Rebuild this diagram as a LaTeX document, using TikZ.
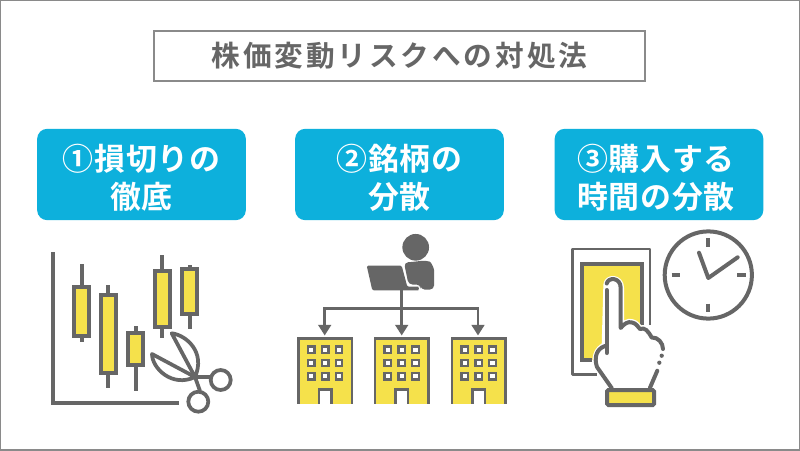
\documentclass[tikz,border=0pt]{standalone}
\usepackage{fontspec}
\usetikzlibrary{arrows.meta}
\newfontfamily\jpb[BoldFont=Noto Sans CJK JP Bold]{Noto Sans CJK JP}
\newcommand{\spt}[2]{\begingroup\def\myk{\kern#1\relax}\sptloop#2\relax\endgroup}
\def\sptloop#1#2{#1\ifx\relax#2\else\myk\expandafter\sptloop\expandafter#2\fi}
\newcommand{\topgap}{\rule{0pt}{25pt}}
\definecolor{ink}{HTML}{666666}
\definecolor{frameg}{HTML}{8A8A8A}
\definecolor{sky}{HTML}{0DB0DC}
\definecolor{sun}{HTML}{F5E14B}
\tikzset{
 titlebox/.style={draw=frameg,line width=1.1pt,fill=white,minimum width=368pt,minimum height=37.5pt,inner sep=0pt,text=ink,font=\jpb\bfseries\fontsize{21.5}{24}\selectfont},
 bluebox/.style={fill=sky,rounded corners=7.5pt,minimum width=156.5pt,minimum height=68.5pt,inner sep=0pt,text=white,align=center,font=\jpb\bfseries\fontsize{23.2}{28.5}\selectfont},
 ln/.style={draw=ink,line width=3pt},
 thin/.style={draw=ink,line width=2.2pt},
 candle/.style={draw=ink,line width=3pt,fill=sun},
 flow/.style={draw=ink,line width=2.2pt},
 flowarr/.style={flow,-{Triangle[length=8pt,width=9.5pt]}},
 win/.style={draw=ink,line width=1.7pt,fill=white},
}
\begin{document}
\begin{tikzpicture}[x=0.75pt,y=-0.75pt]
\useasboundingbox (0,0) rectangle (800,450);
\fill[white] (0,0) rectangle (800,450);
\draw[frameg,line width=1.5pt] (0,0) rectangle (800,450);
\node[titlebox] (title) at (399.5,56) {\spt{2.15pt}{株価変動リスクへの対処法}};
\node[bluebox] (b1) at (141.5,174.5) {\topgap\spt{0.5pt}{①損切りの}\\\spt{0.5pt}{徹底}};
\node[bluebox] (b2) at (399.5,174.5) {\topgap\spt{0.5pt}{②銘柄の}\\\spt{0.5pt}{分散}};
\node[bluebox] (b3) at (659,174.5) {\topgap\spt{0.5pt}{③購入する}\kern4.5pt\\\spt{0.5pt}{時間の分散}\kern4.5pt};
% chart
\draw[ln,line join=miter] (53,252) -- (53,403) -- (179,403);
\foreach \x/\wa/\wb/\ya/\yb in {81.7/264/342/287/336,108.3/285/388/295/372.7,135.7/326/391/333/365,162.3/255/338/271/326.7,189.7/265/329/269/314.3}{
 \draw[ln] (\x,\wa) -- (\x,\wb);
 \draw[candle] (\x-7.4,\ya) rectangle (\x+7.4,\yb);
}
% scissors
\draw[thin,line width=2.8pt,line join=round,fill=white] (171.7,333.3) .. controls (186,335) and (206,352) .. (195,377) -- cycle;
\draw[thin,line width=2.8pt,line join=round,fill=white] (152,354) .. controls (152,368) and (172,388) .. (195,377) -- cycle;
\draw[thin,line width=2.8pt] (195,377) -- (200,391);
\draw[thin,line width=2.8pt] (195,377) -- (210,377);
\draw[thin,line width=2.8pt,fill=white] (220.7,380) circle (7.5pt);
\draw[thin,line width=2.8pt,fill=white] (198.3,401.7) circle (7.5pt);
% person
\fill[ink] (415.7,247.3) circle (10pt);
\fill[ink,rounded corners=3pt] (404,262.5) .. controls (412,262) and (420,261) .. (426,260.5) .. controls (431,262) and (434,268) .. (434,274) -- (434,289.5) -- (420.5,289.5) -- (420.5,284.5) -- (408.5,284.5) -- cycle;
\fill[ink,rounded corners=1pt] (366.7,265.7) -- (401.7,265.7) -- (407.3,286.7) -- (417,286.7) .. controls (419,286.7) and (419,290.3) .. (417,290.3) -- (372.3,290.3) -- cycle;
% flow
\coordinate (hub) at (401.7,290);
\coordinate (mid) at (401.7,308.3);
\coordinate (t1) at (324.7,335.5);
\coordinate (t2) at (401.7,335.5);
\coordinate (t3) at (478,335.5);
\draw[flowarr] (hub) -- (t2);
\draw[flowarr] (mid) -| (t1);
\draw[flowarr] (mid) -| (t3);
% buildings
\foreach \bx in {298.5,375,452}{
 \fill[sun] (\bx,338.5) rectangle (\bx+53.5,403.5);
 \draw[thin,line join=miter] (\bx,403.5) -- (\bx,338.5) -- (\bx+53.5,338.5) -- (\bx+53.5,403.5);
 \foreach \wy in {349.7,363,376.3}{
  \foreach \wx in {12.7,26.7,40.5}{
   \draw[win] (\bx+\wx-3.2,\wy-3.2) rectangle (\bx+\wx+3.2,\wy+3.2);
  }
 }
 \fill[white] (\bx+20.5,389.5) rectangle (\bx+33,403.5);
 \draw[thin,line join=miter] (\bx+20.5,403.5) -- (\bx+20.5,389.5) -- (\bx+33,389.5) -- (\bx+33,403.5);
}
% tablet
\draw[thin,line join=round] (650,325) -- (650,249) -- (572.3,249) -- (572.3,374.3) -- (597,374.3);
\fill[sun] (581.7,264) rectangle (641.7,360);
\draw[ln,line join=miter] (641.7,325) -- (641.7,264) -- (581.7,264) -- (581.7,360) -- (592,360);
% clock
\draw[ln,fill=white] (708.3,275) circle (32.7pt);
\draw[ln] (708.3,238.3) -- (708.3,246.7);
\draw[ln] (708.3,303.5) -- (708.3,312);
\draw[ln] (671.5,275) -- (680,275);
\draw[ln] (737,275) -- (745.5,275);
\draw[ln,line cap=round,line join=round] (699,252.7) -- (708.3,278) -- (737.7,257.3);
% hand
\path[fill=white,draw=white,line width=5pt,line join=round] (606.7,285) .. controls (606.7,277) and (620.7,277) .. (620.7,288) -- (620.7,328) .. controls (624,324) and (628,321) .. (632,322.5) .. controls (636,323) and (638,327) .. (640,329) .. controls (645,327) and (648,331) .. (651.7,337.5) .. controls (658,337) and (663,343) .. (663.3,350) -- (657.3,372) -- (650,389) -- (611.7,389) -- (597,367) .. controls (594,358) and (597,349) .. (605,345.7) -- cycle;
\begin{scope}[line width=3pt,draw=ink,line cap=round,line join=round]
\draw[ink] (606.7,290) -- (606.7,353);
\draw[ink] (606.7,283.5) .. controls (608,277) and (620.7,277) .. (620.7,288) -- (620.7,328) .. controls (624,324) and (628,321) .. (632,322.5) .. controls (636,323) and (638,327) .. (640,329) .. controls (645,327) and (648,331) .. (651.7,337.5) .. controls (658,337) and (663,343) .. (663,349);
\draw[ink] (657.3,370.7) -- (650,387.7);
\draw[ink] (605,346) .. controls (596,349) and (594,358) .. (597,367) -- (611.7,388);
\end{scope}
\fill[ink] (661.7,355.7) circle (1.6pt);
\fill[ink] (659.3,362.7) circle (1.6pt);
\draw[ln,fill=sun,rounded corners=1pt] (607,390) rectangle (654,405);
\end{tikzpicture}
\end{document}
